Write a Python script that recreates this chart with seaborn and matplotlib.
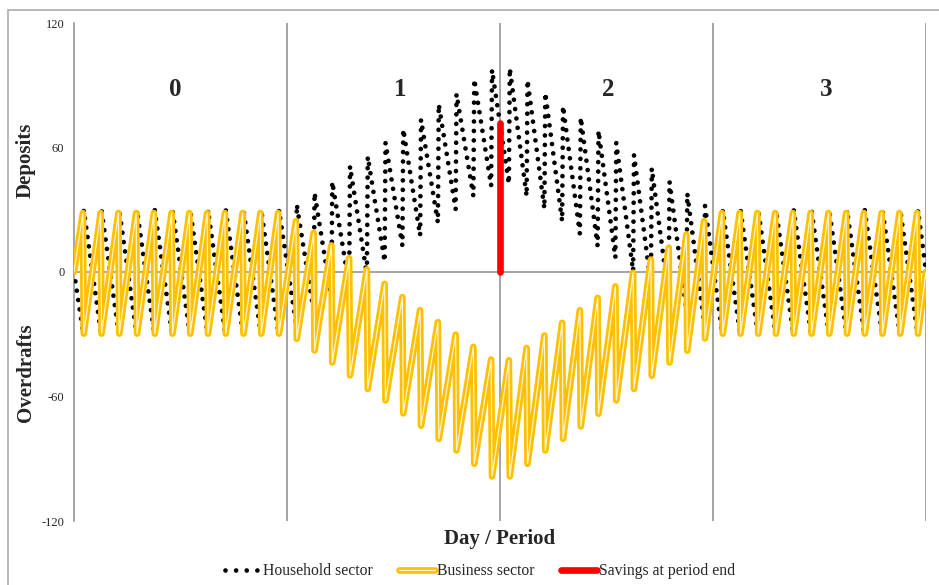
import matplotlib
matplotlib.use("Agg")
import numpy as np
import pandas as pd
import matplotlib.pyplot as plt
import seaborn as sns
from matplotlib.lines import Line2D
from matplotlib.patches import Rectangle
from matplotlib.legend_handler import HandlerTuple

# ---- data: 4 periods x 12 pay cycles ----
period_labels = ["0", "1", "2", "3"]
period_label_x = [5.7, 18.4, 30.1, 42.4]
period_label_y = 88
pay_cycle = list(range(48))

# business sector balance just before / just after each payday
business_peak = [
    28.4, 28.4, 28.4, 28.4, 28.4, 28.4, 28.4, 28.4, 28.4, 28.4, 28.4, 28.4,
    24.5, 18.8, 12.8, 6.6, 1.2, -5.7, -12.1, -18.4, -24.2, -30.2, -36.1, -42.2,
    -42.5, -36.6, -30.6, -24.5, -18.4, -12.5, -6.9, -0.4, 6.0, 11.6, 18.0, 24.5,
    28.4, 28.4, 28.4, 28.4, 28.4, 28.4, 28.4, 28.4, 28.4, 28.4, 28.4, 28.4,
]
business_trough = [
    -29.7, -29.7, -29.7, -29.7, -29.7, -29.7, -29.7, -29.7, -29.7, -29.7, -29.7, -29.7,
    -32.2, -37.8, -43.6, -49.8, -56.3, -61.9, -68.1, -74.1, -80.4, -86.0, -92.4, -98.5,
    -98.5, -92.4, -86.0, -80.4, -74.4, -68.3, -61.9, -56.3, -50.0, -43.6, -37.9, -32.0,
    -29.7, -29.7, -29.7, -29.7, -29.7, -29.7, -29.7, -29.7, -29.7, -29.7, -29.7, -29.7,
]
# household sector balance just before / just after each payday
household_low = [
    -28.4, -28.4, -28.4, -28.4, -28.4, -28.4, -28.4, -28.4, -28.4, -28.4, -28.4, -28.4,
    -24.5, -18.8, -12.8, -6.6, -1.2, 5.0, 12.7, 17.5, 23.8, 30.2, 36.6, 41.5,
    42.5, 36.6, 30.6, 24.5, 18.4, 12.5, 6.9, 0.4, -6.0, -11.6, -18.0, -24.5,
    -28.4, -28.4, -28.4, -28.4, -28.4, -28.4, -28.4, -28.4, -28.4, -28.4, -28.4, -28.4,
]
household_high = [
    29.9, 29.9, 29.9, 29.9, 29.9, 29.9, 29.9, 29.9, 29.9, 29.9, 29.9, 29.9,
    32.5, 38.2, 43.5, 51.0, 55.6, 62.3, 68.8, 73.5, 80.8, 85.8, 92.9, 97.5,
    98.2, 92.5, 86.4, 80.0, 74.5, 68.1, 62.3, 56.4, 50.0, 43.5, 37.9, 31.8,
    29.9, 29.9, 29.9, 29.9, 29.9, 29.9, 29.9, 29.9, 29.9, 29.9, 29.9, 29.9,
]
start_balance = 0
end_balance = 0
savings_day = 24
savings_value = 72

# ---- build line tables ----
def sawtooth(before, after):
    xs, ys = [0.0], [start_balance]
    for k in pay_cycle:
        xs += [k + 0.5, k + 0.55]
        ys += [before[k], after[k]]
    xs.append(len(pay_cycle))
    ys.append(end_balance)
    return pd.DataFrame({"day": xs, "balance": ys})

business = sawtooth(business_peak, business_trough)
household = sawtooth(household_low, household_high)
savings = pd.DataFrame({"day": [savings_day, savings_day], "balance": [0, savings_value]})

# ---- style ----
sns.set_style("white")
plt.rcParams["font.family"] = ["Liberation Serif", "DejaVu Serif"]
plt.rcParams["axes.unicode_minus"] = False

GOLD = "#FFC000"
STRIPE = "#FFF3CC"
GRAY = "#8C8C8C"

fig = plt.figure(figsize=(9.39, 5.85), dpi=100)
ax = fig.add_axes([74 / 939, 1 - 521 / 585, (926 - 74) / 939, (521 - 23) / 585])

dots = dict(color="black", lw=3.4, linestyle=(0, (0.001, 2.0)),
            dash_capstyle="round")
sns.lineplot(data=household, x="day", y="balance", ax=ax, sort=False,
             estimator=None, zorder=3, **dots)
sns.lineplot(data=business, x="day", y="balance", ax=ax, sort=False,
             estimator=None, color=GOLD, lw=4.8, solid_joinstyle="round",
             solid_capstyle="round", zorder=4)
sns.lineplot(data=business, x="day", y="balance", ax=ax, sort=False,
             estimator=None, color=STRIPE, lw=0.9, solid_joinstyle="round",
             zorder=5)
sns.lineplot(data=savings, x="day", y="balance", ax=ax, sort=False,
             estimator=None, color="red", lw=4.8, solid_capstyle="round",
             zorder=6)

ax.set_xlim(0, 48)
ax.set_ylim(-120, 120)
ax.set_yticks([-120, -60, 0, 60, 120])
ax.set_yticklabels(["-120", "-60", "0", "60", "120"], fontsize=9)
ax.set_xticks([])
ax.set_xlabel("")
ax.set_ylabel("")
ax.tick_params(axis="y", direction="out", length=4, width=1, color=GRAY, pad=3)

for s in ["top", "right", "bottom"]:
    ax.spines[s].set_visible(False)
ax.spines["left"].set_color(GRAY)
ax.spines["left"].set_linewidth(1.1)
ax.axhline(0, color=GRAY, lw=1.1, zorder=1)
for xv in [12, 24, 36, 48]:
    ax.axvline(xv, color=GRAY, lw=1.1, zorder=1)

for lab, xv in zip(period_labels, period_label_x):
    ax.text(xv, period_label_y, lab, ha="center", va="center",
            fontsize=18, fontweight="bold")

fig.text(26 / 939, 1 - 160 / 585, "Deposits", rotation=90, ha="center",
         va="center", fontsize=15, fontweight="bold")
fig.text(26 / 939, 1 - 373 / 585, "Overdrafts", rotation=90, ha="center",
         va="center", fontsize=15, fontweight="bold")
fig.text(500 / 939, 1 - 539 / 585, "Day / Period", ha="center", va="center",
         fontsize=15, fontweight="bold")

# legend
h_house = Line2D([], [], color="black", lw=3.4, linestyle=(0, (0.001, 2.25)),
                 dash_capstyle="round")
h_bus = (Line2D([], [], color=GOLD, lw=4.8, solid_capstyle="round"),
         Line2D([], [], color=STRIPE, lw=0.9))
h_sav = Line2D([], [], color="red", lw=4.8, solid_capstyle="round")
fig.legend([h_house, h_bus, h_sav],
           ["Household sector", "Business sector", "Savings at period end"],
           handler_map={tuple: HandlerTuple(ndivide=1, pad=0)},
           loc="center", bbox_to_anchor=(480 / 939, 1 - 571 / 585), ncol=3,
           frameon=False, fontsize=11.3, handlelength=2.3, handletextpad=0.15,
           columnspacing=1.65)

# outer chart border
fig.patches.append(Rectangle((8 / 939, -0.1), 1.2, 1 - 10 / 585 + 0.1,
                             transform=fig.transFigure, fill=False,
                             edgecolor="#A6A6A6", lw=1.1))

fig.savefig("out.png", dpi=100)
